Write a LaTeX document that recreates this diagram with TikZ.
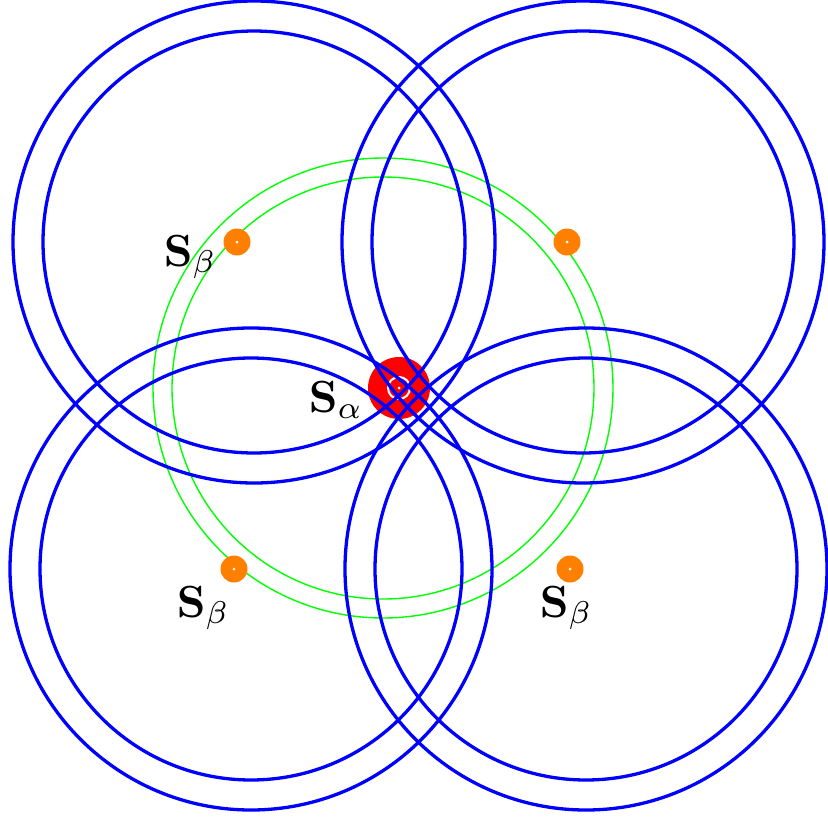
\documentclass[tikz,border=0pt]{standalone}
\usepackage{amsmath}
\usetikzlibrary{positioning}

\begin{document}
\begin{tikzpicture}[x=1pt, y=-1pt,
  ring/.style={draw=blue, line width=3.3pt},
  orbit/.style={draw=green, line width=1.4pt},
  sbeta/.style={circle, fill=orange, minimum size=27pt, inner sep=0pt},
  salpha/.style={circle, fill=red, minimum size=62pt, inner sep=0pt},
  lab/.style={inner sep=0pt, anchor=base west, scale=4.5}]
\useasboundingbox (0,0) rectangle (828,819);
% green orbits round the central site
\coordinate (o) at (383,388);
\draw[orbit] (o) circle (230pt);
\draw[orbit] (o) circle (211pt);
% beta sites
\node[sbeta] (b1) at (237,242) {};
\node[sbeta] (b2) at (567,242) {};
\node[sbeta] (b3) at (234,569) {};
\node[sbeta] (b4) at (570,569) {};
\foreach \n in {b1,b2,b3,b4}
  \fill[white] (\n.center) circle (1.5pt);
% alpha site
\node[salpha] (a) at (399,388) {};
\draw[white, line width=2pt] (a.center) circle (11pt);
\fill[white] (a.center) circle (1.5pt);
% blue rings
\foreach \c in {(254,242),(583,242),(251,569),(586,569)} {
  \draw[ring] \c circle (241pt);
  \draw[ring] \c circle (211pt);
}
% labels
\node[lab] (lb1) at (163,266) {$\mathbf{S}_\beta$};
\node[lab] (la)  at (308,412) {$\mathbf{S}_\alpha$};
\node[lab] (lb3) at (176,617) {$\mathbf{S}_\beta$};
\node[lab] (lb4) at (539,617) {$\mathbf{S}_\beta$};
\end{tikzpicture}
\end{document}
